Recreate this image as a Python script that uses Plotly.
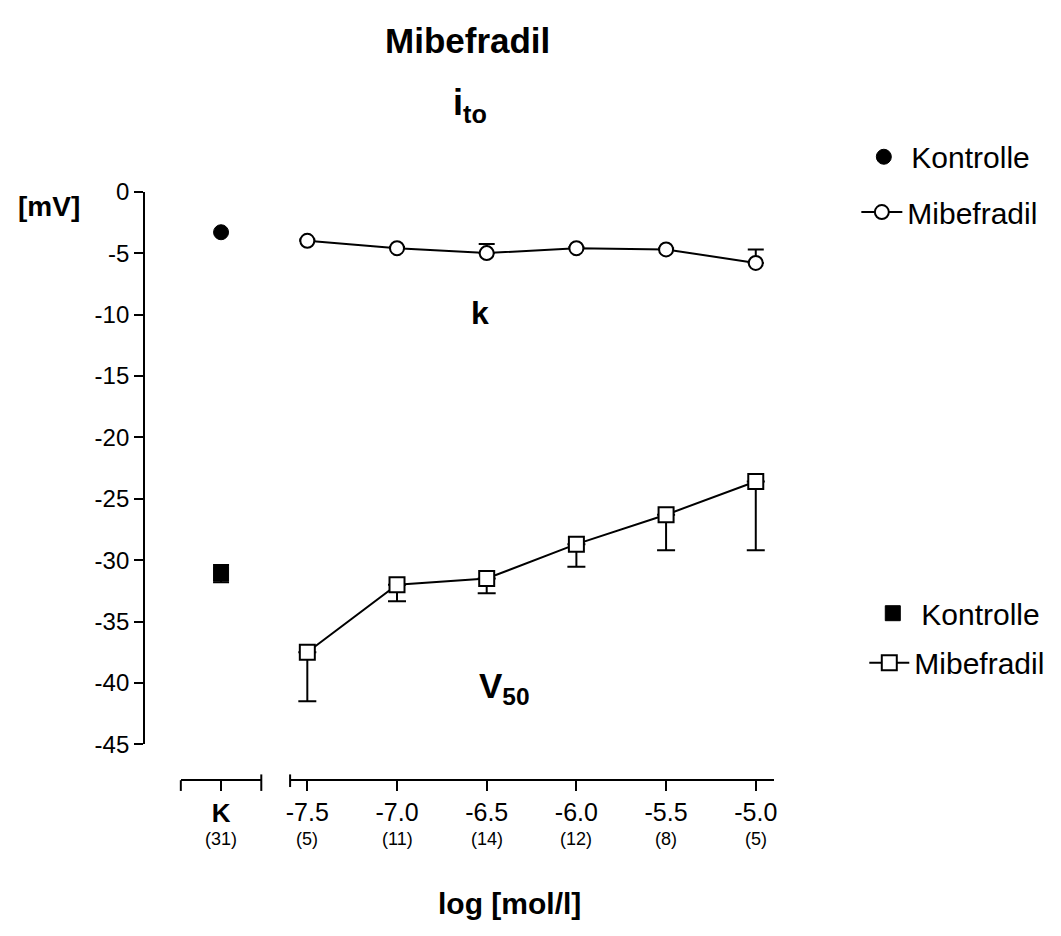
import plotly.graph_objects as go

W, H = 1061, 936
FONT = "Arial, Liberation Sans, sans-serif"

# ---- data ----
log_conc = [-7.5, -7.0, -6.5, -6.0, -5.5, -5.0]
tick_labels = ["-7.5", "-7.0", "-6.5", "-6.0", "-5.5", "-5.0"]
n_counts = ["(5)", "(11)", "(14)", "(12)", "(8)", "(5)"]
k_control = [-3.3]
k_mibe = [-4.0, -4.6, -5.0, -4.6, -4.7, -5.8]
k_mibe_err_up = [0.1, 0.1, 0.75, 0.1, 0.1, 1.1]
v50_control = [-31.1]
v50_control_err = [0.7]
v50_mibe = [-37.5, -32.0, -31.5, -28.7, -26.3, -23.6]
v50_mibe_err_down = [4.0, 1.35, 1.2, 1.85, 2.9, 5.6]
control_label = "K"
control_n = "(31)"
y_ticks = [0, -5, -10, -15, -20, -25, -30, -35, -40, -45]


def px(x):
    return x / W


def py(y):
    return 1 - y / H


fig = go.Figure()

# k control (filled circle)
fig.add_trace(go.Scatter(
    x=[1], y=k_control, xaxis="x2", yaxis="y", mode="markers",
    name="Kontrolle", legend="legend", showlegend=True,
    marker=dict(symbol="circle", size=15, color="black", line=dict(color="black", width=1)),
))
# k mibefradil
fig.add_trace(go.Scatter(
    x=log_conc, y=k_mibe, xaxis="x", yaxis="y", mode="lines+markers",
    name="Mibefradil", legend="legend2", showlegend=True,
    line=dict(color="black", width=2),
    marker=dict(symbol="circle", size=14, color="white", line=dict(color="black", width=2)),
    error_y=dict(type="data", symmetric=False, array=k_mibe_err_up,
                 arrayminus=[0] * len(k_mibe), color="black", thickness=2, width=8),
))
# V50 control (filled square)
fig.add_trace(go.Scatter(
    x=[1], y=v50_control, xaxis="x2", yaxis="y", mode="markers",
    name="Kontrolle", legend="legend3", showlegend=True,
    marker=dict(symbol="square", size=15, color="black", line=dict(color="black", width=1)),
    error_y=dict(type="data", array=v50_control_err, color="black", thickness=2, width=8),
))
# V50 mibefradil
fig.add_trace(go.Scatter(
    x=log_conc, y=v50_mibe, xaxis="x", yaxis="y", mode="lines+markers",
    name="Mibefradil", legend="legend4", showlegend=True,
    line=dict(color="black", width=2),
    marker=dict(symbol="square", size=15, color="white", line=dict(color="black", width=2)),
    error_y=dict(type="data", symmetric=False, array=[0] * len(v50_mibe),
                 arrayminus=v50_mibe_err_down, color="black", thickness=2, width=9),
))

# ---- axes geometry (pixels) ----
y_top, y_bot = 183, 752
x_axis_y = 789
main_l, main_r = 288, 775
k_l, k_r = 178, 259
yaxis_x = 141

axis_common = dict(showgrid=False, zeroline=False, showline=True, linecolor="black",
                   linewidth=2, ticks="outside", tickcolor="black", tickwidth=2)


def leg(x, y, iw):
    return dict(x=px(x), y=py(y), xanchor="left", yanchor="middle",
                font=dict(size=30, family=FONT, color="black"),
                bgcolor="rgba(0,0,0,0)", itemwidth=iw, borderwidth=0)


fig.update_layout(
    width=W, height=H,
    margin=dict(l=0, r=0, t=0, b=0),
    paper_bgcolor="white", plot_bgcolor="white",
    font=dict(family=FONT, color="black"),
    showlegend=True,
    xaxis=dict(domain=[px(main_l), px(main_r)], anchor="free", position=py(x_axis_y),
               range=[-7.596, -4.899], tickvals=log_conc, ticktext=tick_labels,
               ticklen=10, tickfont=dict(size=25, family=FONT), **axis_common),
    xaxis2=dict(domain=[px(k_l), px(k_r)], anchor="free", position=py(x_axis_y),
                range=[0, 2], tickvals=[1], ticktext=["<b>" + control_label + "</b>"],
                ticklen=10, tickfont=dict(size=26, family=FONT), **axis_common),
    yaxis=dict(domain=[py(y_bot), py(y_top)], anchor="free", position=px(yaxis_x),
               range=[-45, 0], tickvals=y_ticks, ticktext=[str(v) for v in y_ticks],
               ticklen=9, tickfont=dict(size=24, family=FONT), **axis_common),
    legend=leg(858, 147, 45),
    legend2=leg(858, 204, 41),
    legend3=leg(866, 617, 47),
    legend4=leg(866, 668, 40),
)

# bracket ends of the broken x axis
for xx, y0, y1 in [(k_l, x_axis_y, x_axis_y + 11), (k_r, x_axis_y - 6, x_axis_y + 11),
                   (main_l, x_axis_y - 6, x_axis_y + 7)]:
    fig.add_shape(type="line", xref="paper", yref="paper",
                  x0=px(xx), x1=px(xx), y0=py(y0), y1=py(y1),
                  line=dict(color="black", width=2))

ann = []
# counts below tick labels
for xv, t in zip(log_conc, n_counts):
    ann.append(dict(x=xv, xref="x", y=py(850), text=t, size=18))
ann.append(dict(x=1, xref="x2", y=py(850), text=control_n, size=18))
# titles and labels
ann += [
    dict(x=px(467), y=py(27), text="<b>Mibefradil</b>", size=35),
    dict(x=px(469), y=py(94), text="<b>i<sub>to</sub></b>", size=36),
    dict(x=px(45), y=py(198), text="<b>[mV]</b>", size=28),
    dict(x=px(479), y=py(308), text="<b>k</b>", size=32),
    dict(x=px(504), y=py(694), text="<b>V<sub>50</sub></b>", size=35),
    dict(x=px(509), y=py(916), text="<b>log [mol/l]</b>", size=30),
]
final_ann = []
for a in ann:
    size = a.pop("size")
    a.setdefault("xref", "paper")
    a["yref"] = "paper"
    a["xanchor"] = "center"
    a["yanchor"] = "middle"
    a["showarrow"] = False
    a["font"] = dict(family=FONT, color="black", size=size)
    final_ann.append(a)
fig.update_layout(annotations=final_ann)

fig.write_html("out.html")
